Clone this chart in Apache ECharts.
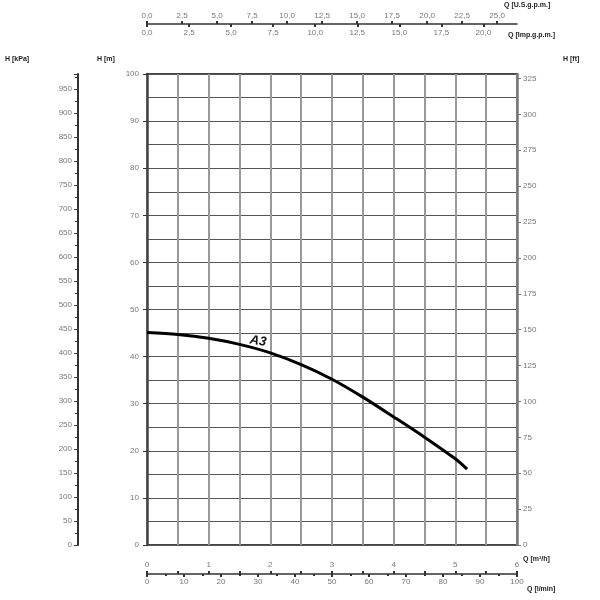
<!DOCTYPE html>
<html>
<head>
<meta charset="utf-8">
<script src="https://cdn.jsdelivr.net/npm/echarts@6/dist/echarts.min.js"></script>
<style>html,body{margin:0;padding:0;background:#fff}#c{width:600px;height:600px}</style>
</head>
<body>
<div id="c"></div>
<script>
// Curve A3: flow Q [m³/h] vs head H [m]
const flowM3h = [0, 0.5, 1.0, 1.5, 2.0, 2.5, 3.0, 3.5, 4.0, 4.5, 5.0, 5.19];
const headM   = [45.1, 44.7, 43.9, 42.6, 40.8, 38.3, 35.2, 31.4, 27.2, 22.9, 18.3, 16.1];
const curveName = 'A3';
// Axis ranges (unit conversions of 6 m³/h and 100 m)
const qMaxM3h = 6, qMaxLmin = 100, qMaxUSgpm = 26.417, qMaxImpgpm = 21.997;
const hMaxM = 100, hMaxKPa = 981, hMaxFt = 328.08;
const titles = ['H [kPa]', 'H [m]', 'H [ft]', 'Q [U.S.g.p.m.]', 'Q [Imp.g.p.m.]', 'Q [m³/h]', 'Q [l/min]'];

const chart = echarts.init(document.getElementById('c'));
const lblColor = '#777';
const axisCol = '#333';
const fmtComma = v => v.toFixed(1).replace('.', ',');
const titleStyle = {fontSize: 7, fontWeight: 'bold', fill: '#222', fontFamily: 'Liberation Sans'};

chart.setOption({
  animation: false,
  textStyle: {fontFamily: 'Liberation Sans'},
  grid: {left: 147, right: 83, top: 74, bottom: 55, show: true, borderColor: '#444', borderWidth: 2, backgroundColor: 'transparent'},
  xAxis: [
    {type: 'value', min: 0, max: qMaxM3h, interval: 0.5, position: 'bottom',
     axisLine: {show: false, onZero: false}, axisTick: {show: false}, axisLabel: {show: false},
     splitLine: {show: true, lineStyle: {color: '#999', width: 2}}},
    {type: 'value', min: 0, max: qMaxM3h, interval: 0.5, position: 'bottom', offset: 29,
     axisLine: {show: true, onZero: false, lineStyle: {color: axisCol, width: 1.5}},
     axisTick: {show: true, inside: true, length: 3, lineStyle: {color: axisCol, width: 2}},
     axisLabel: {inside: true, color: lblColor, fontSize: 8, margin: 5, formatter: v => (Math.abs(v - Math.round(v)) < 1e-6 ? String(Math.round(v)) : '')},
     splitLine: {show: false}},
    {type: 'value', min: 0, max: qMaxLmin, interval: 10, position: 'bottom', offset: 29,
     axisLine: {show: false, onZero: false},
     axisTick: {show: true, length: 3, lineStyle: {color: axisCol, width: 2}},
     minorTick: {show: true, splitNumber: 2, length: 2, lineStyle: {color: axisCol, width: 2}},
     axisLabel: {color: lblColor, fontSize: 8, margin: 4},
     splitLine: {show: false}},
    {type: 'value', min: 0, max: qMaxUSgpm, interval: 2.5, position: 'top', offset: 50,
     axisLine: {show: true, onZero: false, lineStyle: {color: axisCol, width: 1.5}},
     axisTick: {show: true, length: 3, lineStyle: {color: axisCol, width: 2}},
     axisLabel: {color: lblColor, fontSize: 8, margin: 4, showMaxLabel: false, formatter: fmtComma},
     splitLine: {show: false}},
    {type: 'value', min: 0, max: qMaxImpgpm, interval: 2.5, position: 'top', offset: 50,
     axisLine: {show: false, onZero: false},
     axisTick: {show: true, inside: true, length: 3, lineStyle: {color: axisCol, width: 2}},
     axisLabel: {inside: true, color: lblColor, fontSize: 8, margin: 5, showMaxLabel: false, formatter: fmtComma},
     splitLine: {show: false}}
  ],
  yAxis: [
    {type: 'value', min: 0, max: hMaxM, interval: 10, position: 'left',
     axisLine: {show: true, onZero: false, lineStyle: {color: '#444', width: 2.5}},
     axisTick: {show: true, length: 4, lineStyle: {color: axisCol}},
     minorTick: {show: false, splitNumber: 2},
     axisLabel: {color: lblColor, fontSize: 8, margin: 8},
     splitLine: {show: true, lineStyle: {color: '#555', width: 1}},
     minorSplitLine: {show: true, lineStyle: {color: '#555', width: 1}}},
    {type: 'value', min: 0, max: hMaxKPa, interval: 50, position: 'left', offset: 69,
     axisLine: {show: true, onZero: false, lineStyle: {color: axisCol, width: 2}},
     axisTick: {show: true, length: 4, lineStyle: {color: axisCol}},
     minorTick: {show: true, splitNumber: 2, length: 3, lineStyle: {color: axisCol}},
     axisLabel: {color: lblColor, fontSize: 8, margin: 6, showMaxLabel: false},
     splitLine: {show: false}},
    {type: 'value', min: 0, max: hMaxFt, interval: 25, position: 'right',
     axisLine: {show: true, onZero: false, lineStyle: {color: '#777', width: 2.5}},
     axisTick: {show: true, length: 4, lineStyle: {color: '#777'}},
     axisLabel: {color: lblColor, fontSize: 8, margin: 6, showMaxLabel: false},
     splitLine: {show: false}}
  ],
  series: [{
    name: curveName, type: 'line', smooth: 0.3, symbol: 'none',
    xAxisIndex: 0, yAxisIndex: 0,
    data: flowM3h.map((q, i) => [q, headM[i]]),
    lineStyle: {color: '#000', width: 3},
    markPoint: {
      symbol: 'circle', symbolSize: 0,
      data: [{coord: [1.8, 43.3], value: curveName}],
      label: {show: true, position: 'inside', formatter: curveName, color: '#111', fontSize: 13, fontWeight: 'bold', fontStyle: 'italic', rotate: -10}
    }
  }],
  graphic: [
    {type: 'text', left: 5, top: 56, style: Object.assign({text: titles[0]}, titleStyle)},
    {type: 'text', left: 97, top: 56, style: Object.assign({text: titles[1]}, titleStyle)},
    {type: 'text', left: 563, top: 56, style: Object.assign({text: titles[2]}, titleStyle)},
    {type: 'text', left: 504, top: 2, style: Object.assign({text: titles[3]}, titleStyle)},
    {type: 'text', left: 508, top: 32, style: Object.assign({text: titles[4]}, titleStyle)},
    {type: 'text', left: 523, top: 556, style: Object.assign({text: titles[5]}, titleStyle)},
    {type: 'text', left: 527, top: 586, style: Object.assign({text: titles[6]}, titleStyle)}
  ]
});
</script>
</body>
</html>
